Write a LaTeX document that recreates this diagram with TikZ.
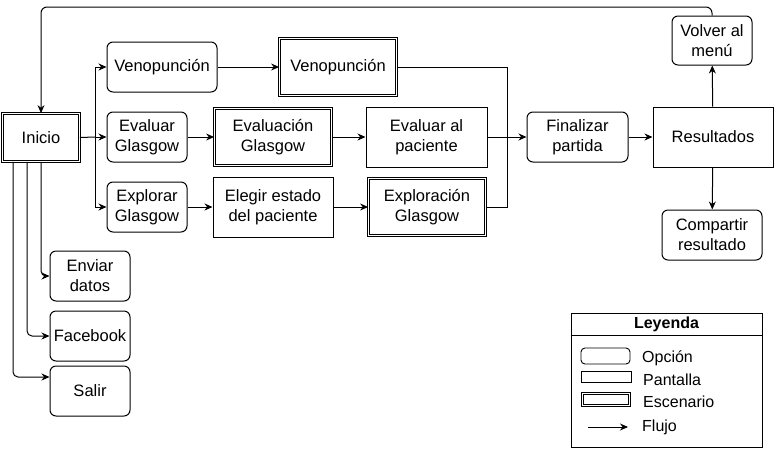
\documentclass[tikz,border=0pt]{standalone}
\usepackage{fontspec}
\setmainfont{Liberation Sans}
\usetikzlibrary{arrows.meta}
\begin{document}
\begin{tikzpicture}[x=1pt,y=-1pt,
  base/.style={draw, line width=1pt, align=center, inner sep=0pt, font=\fontsize{16.5}{20}\selectfont},
  opt/.style={base, rounded corners=6pt},
  screen/.style={base},
  scen/.style={base, double, double distance=1.6pt, line width=0.8pt},
  arr/.style={line width=1pt, -{Stealth[length=8pt,width=7pt]}},
  ln/.style={line width=1pt},
  legtxt/.style={anchor=west, inner sep=0pt, font=\fontsize{16}{19}\selectfont}]
\useasboundingbox (0,0) rectangle (774,451);
% main nodes
\node[scen, minimum width=77, minimum height=48] (inicio) at (41,137.5) {Inicio};
\node[opt, minimum width=110, minimum height=50] (optVeno) at (162,67) {Venopunción};
\node[scen, minimum width=117, minimum height=57] (scVeno) at (338,67) {Venopunción};
\node[opt, minimum width=80, minimum height=50] (optEval) at (147,137) {Evaluar\\Glasgow};
\node[scen, minimum width=117, minimum height=57] (scEval) at (273,137) {Evaluación\\Glasgow};
\node[screen, minimum width=121, minimum height=60] (paciente) at (426.5,137) {Evaluar al\\paciente};
\node[opt, minimum width=80, minimum height=50] (optExpl) at (147,207) {Explorar\\Glasgow};
\node[screen, minimum width=120, minimum height=60] (elegir) at (273,207) {Elegir estado\\del paciente};
\node[scen, minimum width=117, minimum height=57] (scExpl) at (427,207) {Exploración\\Glasgow};
\node[opt, minimum width=101, minimum height=50] (fin) at (577.5,137) {Finalizar\\partida};
\node[screen, minimum width=120, minimum height=60] (res) at (713,137) {Resultados};
\node[opt, minimum width=80, minimum height=49] (volver) at (712,40.5) {Volver al\\menú};
\node[opt, minimum width=100, minimum height=50] (comp) at (712,235) {Compartir\\resultado};
\node[opt, minimum width=80, minimum height=50] (enviar) at (90,276) {Enviar\\datos};
\node[opt, minimum width=80, minimum height=50] (face) at (90,336) {Facebook};
\node[opt, minimum width=80, minimum height=50] (salir) at (90,391) {Salir};
% connectors
\coordinate (sp) at (95,137);
\coordinate (mg) at (507,137);
\coordinate (topy) at (0,7);
\draw[ln] (inicio.east) -- (sp);
\draw[arr] (sp) -- (optEval.west);
\draw[arr] (sp) |- (optVeno.west);
\draw[arr] (sp) |- (optExpl.west);
\draw[arr] (optVeno) -- (scVeno);
\draw[arr] (optEval) -- (scEval);
\draw[arr] (scEval) -- (paciente);
\draw[arr] (optExpl) -- (elegir);
\draw[arr] (elegir) -- (scExpl);
\draw[ln] (scVeno.east) -| (mg);
\draw[ln] (scExpl.east) -| (mg);
\draw[arr] (paciente.east) -- (fin.west);
\draw[arr] (fin) -- (res);
\draw[arr] (res) -- (volver);
\draw[arr] (res) -- (comp);
\draw[arr, rounded corners=6pt] (volver.north) |- (topy -| inicio.north) -- (inicio.north);
\draw[arr, rounded corners=5pt] (inicio.south) |- (enviar.west);
\draw[arr, rounded corners=5pt] ([xshift=-14pt]inicio.south) |- (face.west);
\draw[arr, rounded corners=5pt] ([xshift=-28pt]inicio.south) |- ([yshift=14pt]salir.west);
% legend
\node[draw, line width=1pt, minimum width=191, minimum height=134, inner sep=0pt] (leg) at (666.5,380) {};
\node[font=\bfseries\fontsize{16}{19}\selectfont, inner sep=0pt] (legtitle) at (666.5,324.5) {Leyenda};
\coordinate (divy) at (0,335);
\draw[ln] (divy -| leg.west) -- (divy -| leg.east);
\node[draw, line width=0.9pt, rounded corners=4pt, minimum width=49, minimum height=16, inner sep=0pt] (lopt) at (605.5,356) {};
\node[draw, line width=0.9pt, minimum width=50, minimum height=11, inner sep=0pt] (lscr) at (606,376.5) {};
\node[draw, double, double distance=1.6pt, line width=0.8pt, minimum width=47, minimum height=12, inner sep=0pt] (lsc) at (606,399.5) {};
\node[legtxt] (topt) at (642,358) {Opción};
\node[legtxt] (tscr) at (643,380) {Pantalla};
\node[legtxt] (tsc) at (643,402) {Escenario};
\node[legtxt] (tfl) at (642,427) {Flujo};
\coordinate (fa) at (588,427);
\coordinate (fb) at (628,427);
\draw[arr] (fa) -- (fb);
\end{tikzpicture}
\end{document}
